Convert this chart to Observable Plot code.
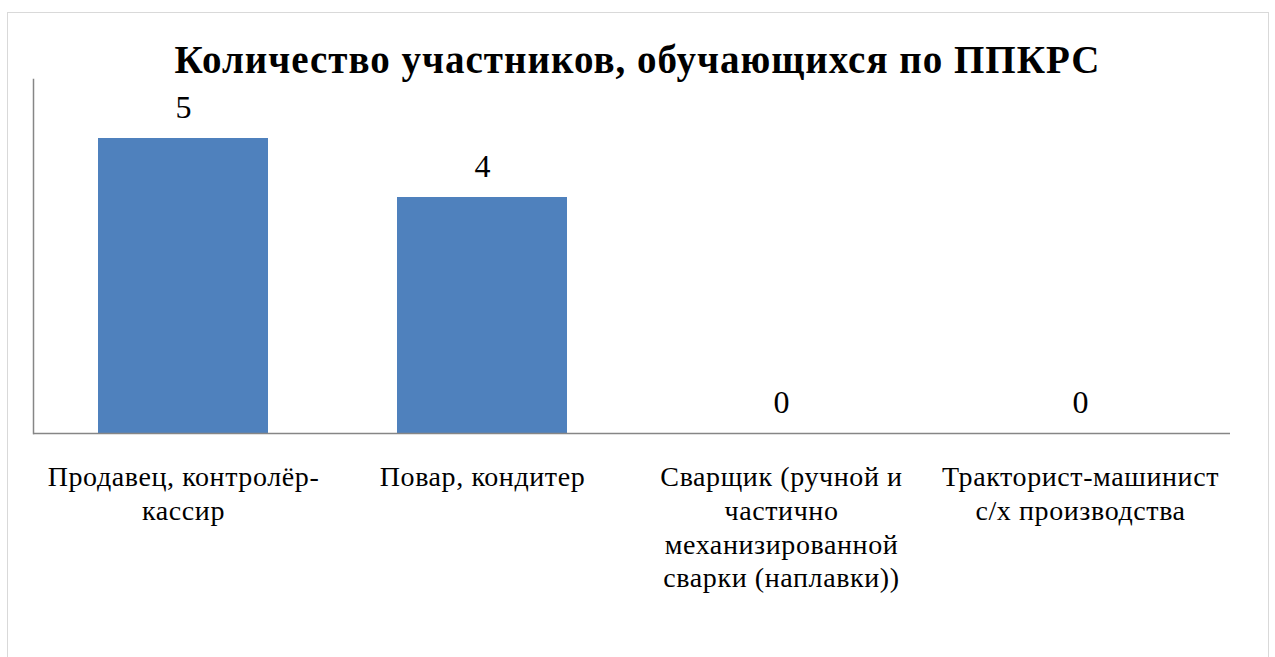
<!DOCTYPE html>
<html>
<head>
<meta charset="utf-8">
<script src="https://cdn.jsdelivr.net/npm/d3@7"></script>
<script src="https://cdn.jsdelivr.net/npm/@observablehq/plot@0.6"></script>
<style>
  html, body { margin: 0; padding: 0; background: #fff; }
  #wrap { position: relative; width: 1275px; height: 657px; overflow: hidden; }
  #border { position: absolute; left: 7px; top: 12px; width: 1260px; height: 700px;
            border: 1px solid #d9d9d9; border-bottom: none; }
  #title { position: absolute; left: 0; top: 41px; width: 1275px; text-align: center;
           font-family: "Liberation Serif", "Times New Roman", Tinos, "DejaVu Serif", serif; font-weight: bold; font-size: 39px;
           letter-spacing: 1px; line-height: 38px; color: #000; margin: 0; }
  #chart { position: absolute; left: 0; top: 0; }
  #chart svg g[aria-label="x-axis tick label"] text { letter-spacing: 0.6px; }
</style>
</head>
<body>
<div id="wrap">
  <div id="border"></div>
  <div id="chart"></div>
  <div id="title">Количество участников, обучающихся по ППКРС</div>
</div>
<script>
const categories = [
  "Продавец, контролёр-\nкассир",
  "Повар, кондитер",
  "Сварщик (ручной и\nчастично\nмеханизированной\nсварки (наплавки))",
  "Тракторист-машинист\nс/х производства"
];
const values = [5, 4, 0, 0];
const yDomain = [0, 6];

const data = categories.map((c, i) => ({cat: c, value: values[i]}));

const chart = Plot.plot({
  width: 1275,
  height: 657,
  marginLeft: 33,
  marginRight: 45,
  marginTop: 79,
  marginBottom: 224,
  style: {fontFamily: "'Liberation Serif', 'Times New Roman', Tinos, 'DejaVu Serif', serif", background: "transparent", color: "#000"},
  x: {domain: categories, paddingInner: 0.43, paddingOuter: 0.215, label: null},
  y: {domain: yDomain, axis: null},
  marks: [
    Plot.barY(data, {x: "cat", y: "value", fill: "#4F81BD"}),
    Plot.ruleY([0], {stroke: "#868686", strokeWidth: 1.5}),
    Plot.frame({anchor: "left", stroke: "#868686", strokeWidth: 1.5}),
    Plot.text(data, {x: "cat", y: "value", text: d => String(d.value), lineAnchor: "bottom", dy: -21, fontSize: 32, fill: "#000"}),
    Plot.axisX({tickSize: 0, tickPadding: 29, fontSize: 28, lineHeight: 1.2, label: null, fill: "#000"})
  ]
});
document.getElementById("chart").appendChild(chart);
</script>
</body>
</html>
